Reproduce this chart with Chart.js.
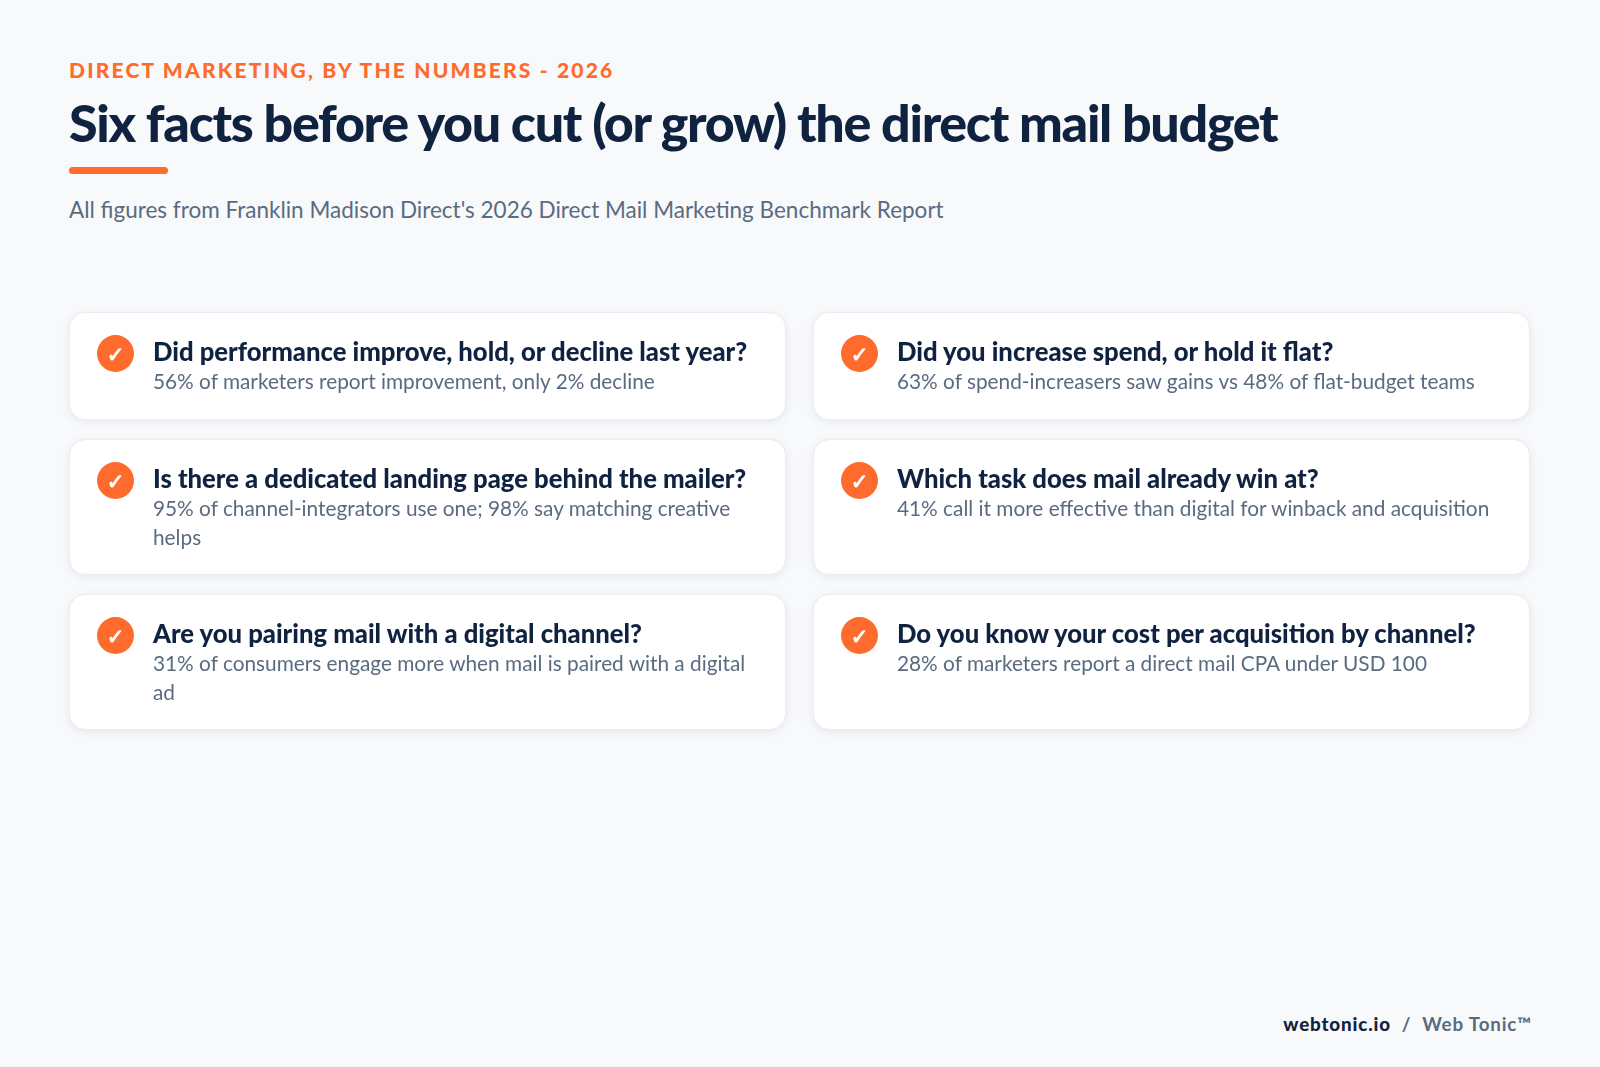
<!DOCTYPE html>
<html lang="en">
<head>
<meta charset="utf-8">
<title>Six facts before you cut (or grow) the direct mail budget</title>
<script src="https://cdn.jsdelivr.net/npm/chart.js@4"></script>
<style>
  html, body { margin: 0; height: 100%; }
  body { width: 1600px; height: 1067px; background: #f7f9fb; font-family: Lato, sans-serif; position: relative; overflow: hidden; }
  .eyebrow { position: absolute; left: 69px; top: 56px; font-size: 21px; line-height: 28px; font-weight: 900; letter-spacing: 2.18px; color: #ff6b2c; white-space: nowrap; }
  h1 { position: absolute; left: 69px; top: 89px; margin: 0; font-size: 52px; line-height: 66px; font-weight: 900; letter-spacing: -1.32px; color: #0f2240; white-space: nowrap; }
  .rule { position: absolute; left: 69px; top: 166.5px; width: 99px; height: 7px; border-radius: 4px; background: #ff6b2c; }
  .sub { position: absolute; left: 69px; top: 195px; font-size: 22.5px; line-height: 30px; color: #5a6b80; white-space: nowrap; }
  .grid { position: absolute; left: 69px; top: 312px; width: 1461px; display: grid; grid-template-columns: 717px 717px; grid-template-rows: 107.5px 136.5px 136px; gap: 19px 27px; }
  .card { position: relative; background: #fff; border: 1px solid #e9edf1; border-radius: 16px; box-sizing: border-box; box-shadow: 0 2px 10px rgba(15,34,64,.07); }
  .badge { position: absolute; left: 27px; top: 22px; width: 37px; height: 37px; }
  .badge canvas { display: block; }
  .badge span { position: absolute; inset: 0; text-align: center; font: bold 21px/40px "DejaVu Sans", sans-serif; color: #fff; -webkit-text-stroke: 1px #fff; }
  .q { position: absolute; left: 83px; top: 22px; width: 610px; font-size: 25.65px; line-height: 32px; font-weight: 900; color: #0f2240; white-space: nowrap; }
  .f { position: absolute; left: 83px; top: 53px; width: 610px; font-size: 20.8px; line-height: 29px; color: #5a6b80; }
  .foot { position: absolute; right: 68px; top: 1010px; font-size: 18.8px; line-height: 28px; font-weight: 700; letter-spacing: .85px; color: #5a6b80; white-space: pre; }
  .foot b { color: #0f2240; }
</style>
</head>
<body>
<div class="eyebrow">DIRECT MARKETING, BY THE NUMBERS - 2026</div>
<h1>Six facts before you cut (or grow) the direct mail budget</h1>
<div class="rule"></div>
<div class="sub">All figures from Franklin Madison Direct's 2026 Direct Mail Marketing Benchmark Report</div>
<div class="grid" id="grid"></div>
<div class="foot"><b>webtonic.io</b>  /  Web Tonic™</div>

<script>
// -------- DATA --------
const questions = [
  "Did performance improve, hold, or decline last year?",
  "Did you increase spend, or hold it flat?",
  "Is there a dedicated landing page behind the mailer?",
  "Which task does mail already win at?",
  "Are you pairing mail with a digital channel?",
  "Do you know your cost per acquisition by channel?"
];
const facts = [
  "56% of marketers report improvement, only 2% decline",
  "63% of spend-increasers saw gains vs 48% of flat-budget teams",
  "95% of channel-integrators use one; 98% say matching creative helps",
  "41% call it more effective than digital for winback and acquisition",
  "31% of consumers engage more when mail is paired with a digital ad",
  "28% of marketers report a direct mail CPA under USD 100"
];
// each badge is a full pie: one slice, all of the circle
const badgeValues = [1, 1, 1, 1, 1, 1];

// -------- CARDS --------
const grid = document.getElementById("grid");

questions.forEach((q, i) => {
  const card = document.createElement("div");
  card.className = "card";
  card.innerHTML = `
    <div class="badge"><canvas width="37" height="37"></canvas><span>✓</span></div>
    <div class="q">${q}</div>
    <div class="f">${facts[i]}</div>
  `;
  grid.appendChild(card);

  new Chart(card.querySelector("canvas"), {
    type: "pie",
    data: {
      labels: ["Fact"],
      datasets: [{ data: [badgeValues[i]], backgroundColor: "#ff6b2c", borderWidth: 0 }]
    },
    options: {
      responsive: false,
      animation: false,
      layout: { padding: 0 },
      plugins: { legend: { display: false }, tooltip: { enabled: false } }
    }
  });
});
</script>
</body>
</html>
